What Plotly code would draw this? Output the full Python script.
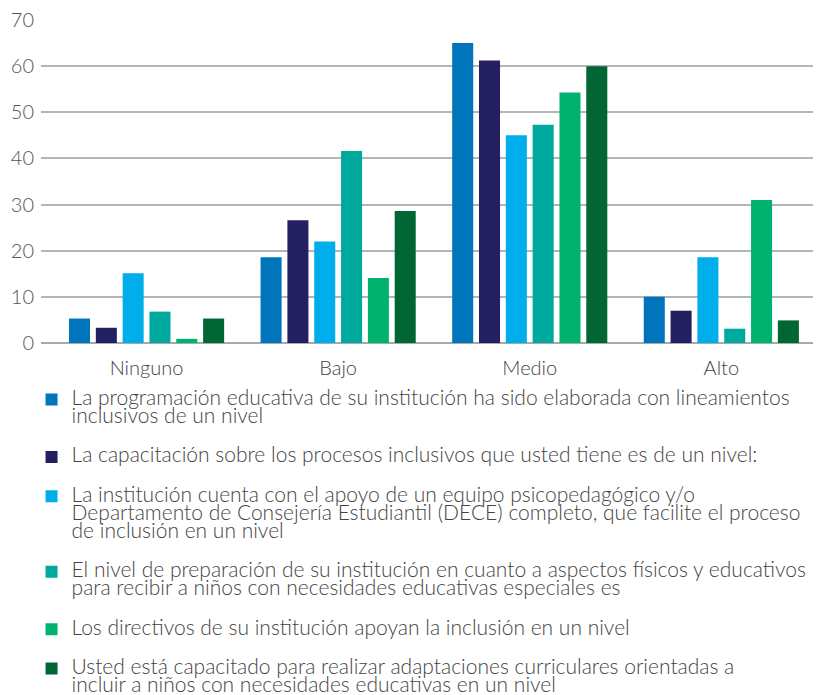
import plotly.graph_objects as go

categories = ["Ninguno", "Bajo", "Medio", "Alto"]

series_names = [
    "La programación educativa de su institución ha sido elaborada con lineamientos<br>inclusivos de un nivel",
    "La capacitación sobre los procesos inclusivos que usted tiene es de un nivel:",
    "La institución cuenta con el apoyo de un equipo psicopedagógico y/o<br>Departamento de Consejería Estudiantil (DECE) completo, que facilite el proceso<br>de inclusión en un nivel",
    "El nivel de preparación de su institución en cuanto a aspectos físicos y educativos<br>para recibir a niños con necesidades educativas especiales es",
    "Los directivos de su institución apoyan la inclusión en un nivel",
    "Usted está capacitado para realizar adaptaciones curriculares orientadas a<br>incluir a niños con necesidades educativas en un nivel",
]

programacion = [5.3, 18.6, 65.0, 10.0]
capacitacion = [3.3, 26.6, 61.2, 7.0]
equipo_dece = [15.1, 22.0, 45.0, 18.6]
preparacion = [6.8, 41.6, 47.3, 3.1]
directivos = [0.9, 14.1, 54.3, 31.0]
adaptaciones = [5.3, 28.6, 60.0, 4.9]

all_values = [programacion, capacitacion, equipo_dece, preparacion, directivos, adaptaciones]
colors = ["#0075BC", "#241F60", "#00AEEC", "#00A99D", "#00B26F", "#006633"]


def big(label):
    # larger glyphs, but keep the tight line spacing of the small legend font
    return "<br>".join('<span style="font-size:21px">%s</span>' % part for part in label.split("<br>"))


fig = go.Figure()

for i, (name, vals) in enumerate(zip(series_names, all_values)):
    fig.add_trace(go.Bar(
        x=categories, y=vals, name=big(name),
        marker=dict(color=colors[i], line=dict(width=0)),
        legendgroup="g%d" % i,
    ))

# the page body adds an 8px offset, so margins are shifted up/left by 8px
fig.update_layout(
    width=821, height=695,
    margin=dict(l=33, r=0, t=12, b=354),
    plot_bgcolor="white", paper_bgcolor="white",
    bargap=0.16, bargroupgap=0.216,
    font=dict(family="Lato", color="#444444", weight=300),
    showlegend=True,
    legend=dict(
        x=-0.012, y=-0.128, xanchor="left", yanchor="top",
        orientation="v", valign="top",
        traceorder="grouped", tracegroupgap=18,
        font=dict(size=14, color="#444444", family="Lato", weight=300),
        bgcolor="rgba(0,0,0,0)",
    ),
)

fig.update_xaxes(
    range=[-0.551, 3.562],
    showgrid=False, showline=False, ticks="", ticklabelstandoff=11,
    tickfont=dict(size=20, color="#444444", family="Lato", weight=300),
)
fig.update_yaxes(
    range=[0, 70], dtick=10,
    showgrid=True, gridcolor="#b3b5b8", gridwidth=2,
    zeroline=True, zerolinecolor="#a7a9ac", zerolinewidth=2,
    ticks="", ticklabelstandoff=6, ticklabeloverflow="allow",
    tickfont=dict(size=20, color="#555555", family="Lato", weight=300),
)

fig.write_html("out.html")
